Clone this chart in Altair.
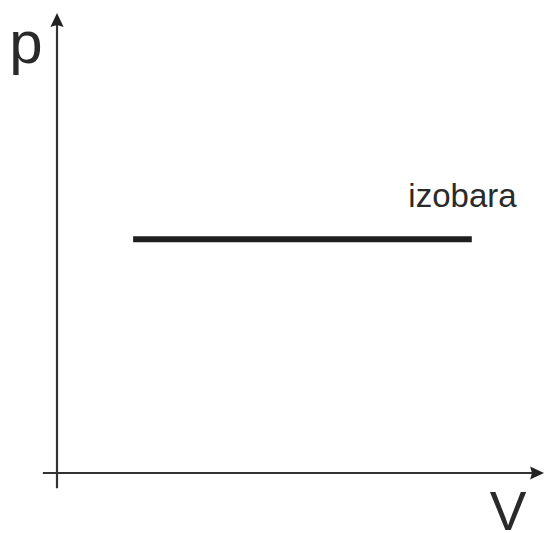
import altair as alt
import pandas as pd

# Isobaric process on a p-V diagram
volume_start = [1.56]
volume_end = [8.5]
pressure = [5.08]

# Axis lines: (x, y) -> (x2, y2)
axis_x = [0.0, -0.29]
axis_y = [-0.33, 0.0]
axis_x2 = [0.0, 9.85]
axis_y2 = [9.85, 0.0]

# Text labels
label_text = ["p", "V", "izobara"]
label_x = [-0.98, 8.87, 7.2]
label_y = [8.91, -1.24, 5.78]
label_size = [60, 55, 33]

W, H = 488, 460
xs = alt.Scale(domain=[0, 10], nice=False, zero=False)
ys = alt.Scale(domain=[0, 10], nice=False, zero=False)

axes_df = pd.DataFrame({"x": axis_x, "y": axis_y, "x2": axis_x2, "y2": axis_y2})
axes = alt.Chart(axes_df).mark_rule(color="#333333", strokeWidth=2.2).encode(
    x=alt.X("x:Q", scale=xs, axis=None),
    y=alt.Y("y:Q", scale=ys, axis=None),
    x2="x2:Q",
    y2="y2:Q",
)

# Arrowheads with the tip at the data point
up_df = pd.DataFrame({"x": [0.0], "y": [10.0]})
up = alt.Chart(up_df).mark_point(
    shape="M0,0L-0.85,1.8L0,1.55L0.85,1.8Z", filled=True, opacity=1,
    color="#222222", size=240,
).encode(x=alt.X("x:Q", scale=xs), y=alt.Y("y:Q", scale=ys))

right_df = pd.DataFrame({"x": [9.98], "y": [0.0]})
right = alt.Chart(right_df).mark_point(
    shape="M0,0L-1.8,-0.85L-1.55,0L-1.8,0.85Z", filled=True, opacity=1,
    color="#222222", size=240,
).encode(x=alt.X("x:Q", scale=xs), y=alt.Y("y:Q", scale=ys))

iso_df = pd.DataFrame({"v1": volume_start, "v2": volume_end, "p": pressure})
iso = alt.Chart(iso_df).mark_rule(color="#1e1e1e", strokeWidth=6, strokeCap="butt").encode(
    x=alt.X("v1:Q", scale=xs),
    x2="v2:Q",
    y=alt.Y("p:Q", scale=ys),
)

lab_df = pd.DataFrame({"t": label_text, "x": label_x, "y": label_y, "s": label_size})
labels = alt.Chart(lab_df).mark_text(
    align="left", baseline="alphabetic", font="Liberation Sans", color="#2a2a2a",
).encode(
    x=alt.X("x:Q", scale=xs),
    y=alt.Y("y:Q", scale=ys),
    text="t:N",
    size=alt.Size("s:Q", scale=None, legend=None),
)

chart = alt.layer(axes, iso, up, right, labels).properties(
    width=W, height=H,
    padding={"left": 57, "top": 13, "right": 0, "bottom": 60},
    autosize=alt.AutoSizeParams(type="none"),
    background="white",
).configure_view(stroke=None)

chart.save("out.html", embed_options={"renderer": "svg", "actions": False})
